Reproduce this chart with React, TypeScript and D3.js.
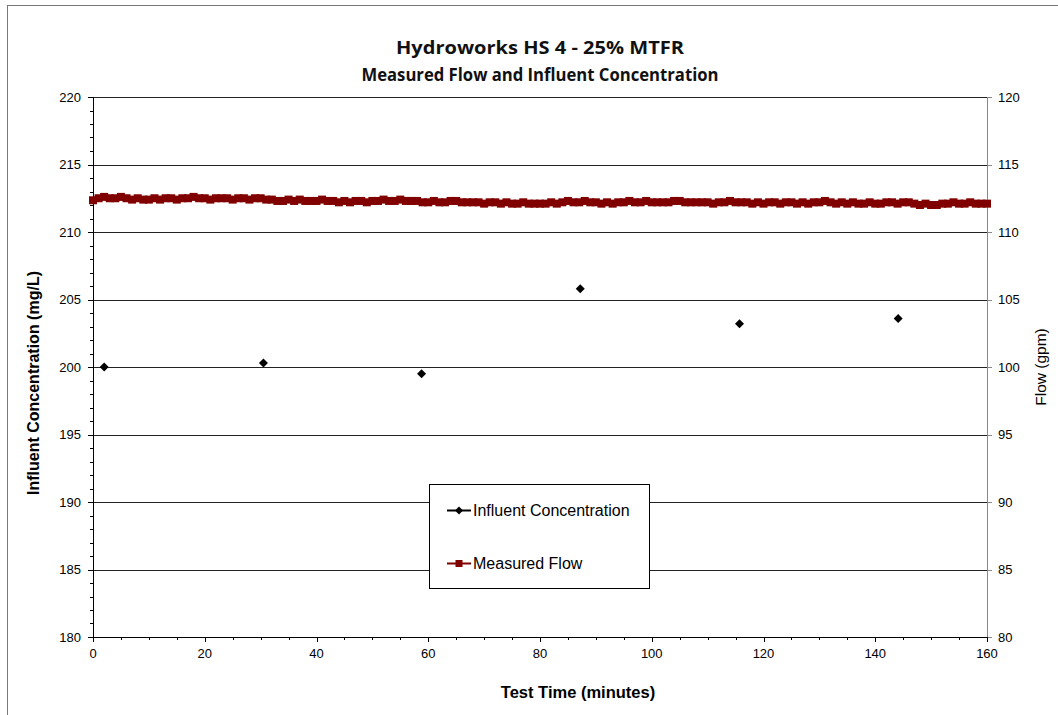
import React from "react";
import * as d3 from "d3";

const titleLines = ["Hydroworks HS 4 - 25% MTFR", "Measured Flow and Influent Concentration"];
const titleWidths = [288, 357];
const xTicks = [0, 20, 40, 60, 80, 100, 120, 140, 160];
const leftTicks = [180, 185, 190, 195, 200, 205, 210, 215, 220];
const rightTicks = [80, 85, 90, 95, 100, 105, 110, 115, 120];

const influentTime = [2.0, 30.5, 58.8, 87.2, 115.7, 144.1];
const influentConc = [200.0, 200.3, 199.5, 205.8, 203.2, 203.6];

// Measured flow, one reading per minute (0..160)
const flowValues = [
  112.35, 112.5, 112.6, 112.5, 112.5, 112.6, 112.5, 112.4, 112.5, 112.4, 112.4, 112.5, 112.4, 112.5, 112.5, 112.4, 112.5, 112.5, 112.6, 112.5, 112.5,
  112.4, 112.5, 112.5, 112.5, 112.4, 112.5, 112.5, 112.4, 112.5, 112.5, 112.4, 112.4, 112.3, 112.3, 112.4, 112.3, 112.4, 112.3, 112.3, 112.3,
  112.4, 112.3, 112.3, 112.2, 112.3, 112.2, 112.3, 112.3, 112.2, 112.3, 112.3, 112.4, 112.3, 112.3, 112.4, 112.3, 112.3, 112.3, 112.2, 112.2,
  112.3, 112.2, 112.2, 112.3, 112.3, 112.2, 112.2, 112.2, 112.2, 112.1, 112.2, 112.2, 112.1, 112.2, 112.1, 112.1, 112.2, 112.1, 112.1, 112.1,
  112.1, 112.2, 112.1, 112.2, 112.3, 112.2, 112.2, 112.3, 112.2, 112.2, 112.1, 112.2, 112.1, 112.2, 112.2, 112.3, 112.2, 112.2, 112.3, 112.2,
  112.2, 112.2, 112.2, 112.3, 112.3, 112.2, 112.2, 112.2, 112.2, 112.2, 112.1, 112.2, 112.2, 112.3, 112.2, 112.2, 112.2, 112.1, 112.2, 112.1,
  112.2, 112.2, 112.1, 112.2, 112.2, 112.1, 112.2, 112.1, 112.2, 112.2, 112.3, 112.2, 112.1, 112.2, 112.1, 112.2, 112.1, 112.1, 112.2, 112.1,
  112.1, 112.2, 112.2, 112.1, 112.2, 112.2, 112.1, 112.0, 112.1, 112.0, 112.0, 112.1, 112.1, 112.2, 112.1, 112.1, 112.2, 112.1, 112.1, 112.1,
];

const W = 1058;
const H = 715;
const L = 93, R = 987, T = 97, B = 637;
const FONT = "'Liberation Sans', Arial, sans-serif";
const FLOW_COLOR = "#800000";

export default function App() {
  const x = d3.scaleLinear().domain([0, 160]).range([L, R]);
  const yL = d3.scaleLinear().domain([180, 220]).range([B, T]);
  const yR = d3.scaleLinear().domain([80, 120]).range([B, T]);

  const flowPts = flowValues.map((v, i) => [i, v] as [number, number]);
  const flowLine = d3.line<[number, number]>().x(d => x(d[0])).y(d => yR(d[1]))(flowPts) || "";

  const leftMinor = d3.range(180, 221, 1).filter(v => v % 5 !== 0);
  const xMinor = d3.range(0, 161, 5).filter(v => v % 20 !== 0);

  const diamondPath = (cx: number, cy: number, r: number) =>
    `M${cx},${cy - r}L${cx + r},${cy}L${cx},${cy + r}L${cx - r},${cy}Z`;

  return (
    <svg width={W} height={H} style={{ position: "absolute", left: 0, top: 0, background: "#fff" }} fontFamily={FONT}>
      <rect x={7.5} y={5.5} width={1100} height={800} fill="#fff" stroke="#777" strokeWidth={1} />
      {/* Title */}
      {titleLines.map((t, i) => (
        <text key={i} x={540} y={54 + i * 27} textAnchor="middle" fontFamily="'Open Sans', sans-serif" fontWeight="bold" fontSize={17.5} textLength={titleWidths[i]} lengthAdjust="spacingAndGlyphs" fill="#111">{t}</text>
      ))}
      {/* Gridlines */}
      {leftTicks.filter(v => v !== 180).map(v => (
        <line key={"g" + v} x1={L} x2={R} y1={Math.round(yL(v)) + 0.5} y2={Math.round(yL(v)) + 0.5} stroke="#222" strokeWidth={1} />
      ))}
      {/* Left axis */}
      <line x1={L + 0.5} x2={L + 0.5} y1={T} y2={B} stroke="#000" />
      {leftTicks.map(v => (
        <g key={"lt" + v}>
          <line x1={L - 5} x2={L} y1={Math.round(yL(v)) + 0.5} y2={Math.round(yL(v)) + 0.5} stroke="#000" />
          <text x={81} y={yL(v) + 4.5} textAnchor="end" fontSize={13} fill="#000">{v}</text>
        </g>
      ))}
      {leftMinor.map(v => (
        <line key={"lm" + v} x1={L - 3} x2={L} y1={Math.round(yL(v)) + 0.5} y2={Math.round(yL(v)) + 0.5} stroke="#000" />
      ))}
      {/* Right axis */}
      <line x1={R + 0.5} x2={R + 0.5} y1={T} y2={B} stroke="#888" />
      {rightTicks.map(v => (
        <g key={"rt" + v}>
          <line x1={R} x2={R + 5} y1={Math.round(yR(v)) + 0.5} y2={Math.round(yR(v)) + 0.5} stroke="#888" />
          <text x={998} y={yR(v) + 4.5} textAnchor="start" fontSize={13} fill="#000">{v}</text>
        </g>
      ))}
      {/* X axis */}
      <line x1={L} x2={R + 1} y1={B + 0.5} y2={B + 0.5} stroke="#000" />
      {xTicks.map(v => (
        <g key={"xt" + v}>
          <line x1={Math.round(x(v)) + 0.5} x2={Math.round(x(v)) + 0.5} y1={B} y2={B + 5} stroke="#000" />
          <text x={x(v)} y={658} textAnchor="middle" fontSize={13} fill="#000">{v}</text>
        </g>
      ))}
      {xMinor.map(v => (
        <line key={"xm" + v} x1={Math.round(x(v)) + 0.5} x2={Math.round(x(v)) + 0.5} y1={B} y2={B + 3} stroke="#000" />
      ))}
      {/* Axis titles */}
      <text transform={`translate(39,383) rotate(-90)`} textAnchor="middle" fontSize={16} fontWeight="bold" fill="#000">Influent Concentration (mg/L)</text>
      <text transform={`translate(1046,367) rotate(-90)`} textAnchor="middle" fontSize={15.5} fill="#000">Flow (gpm)</text>
      <text x={578} y={698} textAnchor="middle" fontSize={16.5} fontWeight="bold" fill="#000">Test Time (minutes)</text>
      {/* Flow series */}
      <path d={flowLine} fill="none" stroke={FLOW_COLOR} strokeWidth={4} />
      {flowPts.map((d, i) => (
        <rect key={"f" + i} x={x(d[0]) - 4} y={yR(d[1]) - 4} width={8} height={8} fill={FLOW_COLOR} />
      ))}
      {/* Influent series */}
      {influentTime.map((t, i) => (
        <path key={"c" + i} d={diamondPath(x(t), yL(influentConc[i]), 4.5)} fill="#000" />
      ))}
      {/* Legend */}
      <rect x={429.5} y={484.5} width={220} height={104} fill="#fff" stroke="#000" strokeWidth={1} />
      <line x1={447} x2={471} y1={510.5} y2={510.5} stroke="#000" strokeWidth={2} />
      <path d={diamondPath(459, 510.5, 4)} fill="#000" />
      <text x={473} y={516} fontSize={16} fill="#000">Influent Concentration</text>
      <line x1={447} x2={471} y1={563.5} y2={563.5} stroke={FLOW_COLOR} strokeWidth={2} />
      <rect x={455.5} y={560} width={7} height={7} fill={FLOW_COLOR} />
      <text x={473} y={569} fontSize={16} fill="#000">Measured Flow</text>
    </svg>
  );
}
